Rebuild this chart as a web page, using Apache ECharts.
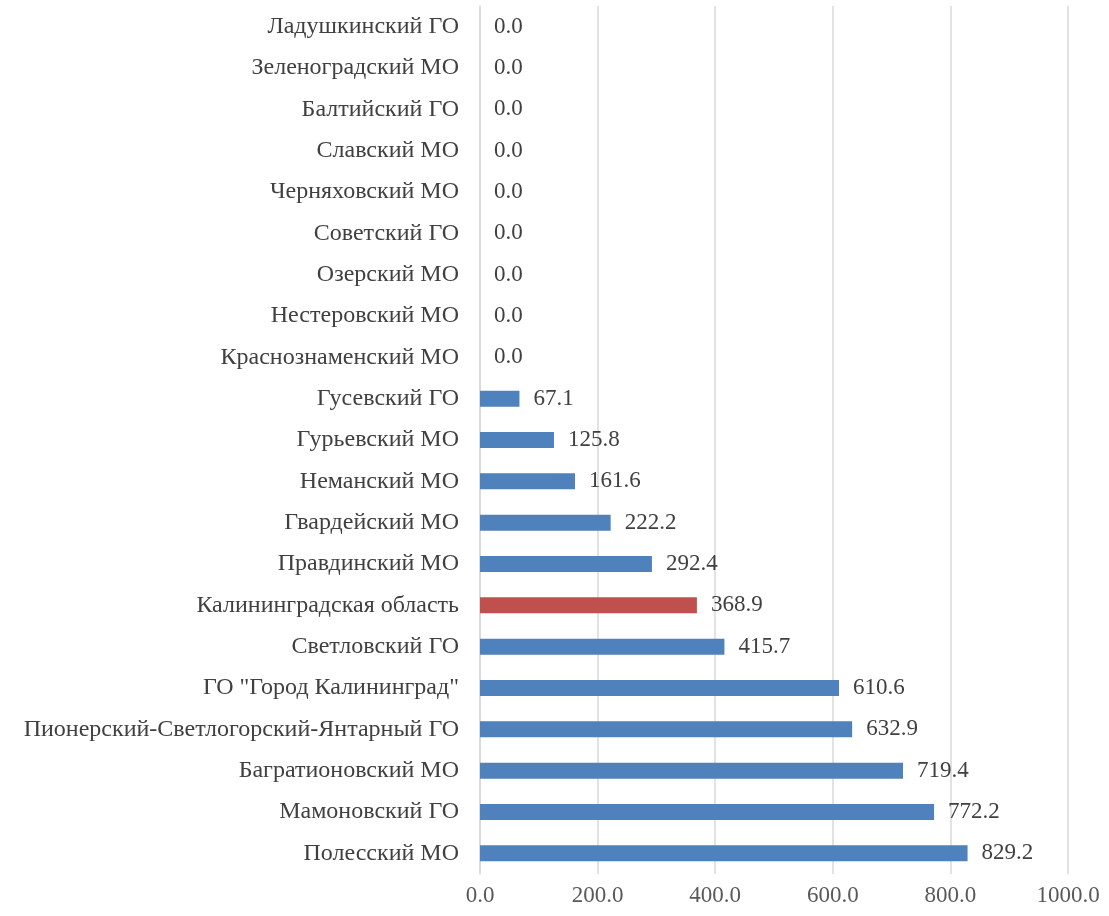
<!DOCTYPE html>
<html>
<head>
<meta charset="utf-8">
<script src="https://cdn.jsdelivr.net/npm/echarts@6/dist/echarts.min.js"></script>
<style>
  html, body { margin: 0; padding: 0; background: #ffffff; }
  #chart { width: 1109px; height: 916px; }
</style>
</head>
<body>
<div id="chart"></div>
<script>
// Municipalities, listed bottom-to-top as the category axis draws them
const categories = [
  'Полесский МО',
  'Мамоновский ГО',
  'Багратионовский МО',
  'Пионерский-Светлогорский-Янтарный ГО',
  'ГО "Город Калининград"',
  'Светловский ГО',
  'Калининградская область',
  'Правдинский МО',
  'Гвардейский МО',
  'Неманский МО',
  'Гурьевский МО',
  'Гусевский ГО',
  'Краснознаменский МО',
  'Нестеровский МО',
  'Озерский МО',
  'Советский ГО',
  'Черняховский МО',
  'Славский МО',
  'Балтийский ГО',
  'Зеленоградский МО',
  'Ладушкинский ГО'
];

const values = [
  829.2, 772.2, 719.4, 632.9, 610.6, 415.7, 368.9, 292.4, 222.2, 161.6, 125.8,
  67.1, 0, 0, 0, 0, 0, 0, 0, 0, 0
];

// Region-wide total is shown in a contrasting colour
const regionTotal = 'Калининградская область';

const xTicks = [0, 200, 400, 600, 800, 1000];

const BLUE = '#4f81bd';
const RED = '#c0504d';
const FONT = '"Liberation Serif", "Times New Roman", serif';

const chart = echarts.init(document.getElementById('chart'), null, { renderer: 'canvas' });

chart.setOption({
  animation: false,
  backgroundColor: '#ffffff',
  grid: { left: 480, right: 41, top: 6, bottom: 42, containLabel: false },
  xAxis: {
    type: 'value',
    min: xTicks[0],
    max: xTicks[xTicks.length - 1],
    interval: xTicks[1] - xTicks[0],
    axisLine: { show: false },
    axisTick: { show: false },
    splitLine: { show: true, lineStyle: { color: '#d9d9d9', width: 1.5 } },
    axisLabel: {
      color: '#595959',
      fontFamily: FONT,
      fontSize: 23,
      margin: 10,
      formatter: v => v.toFixed(1)
    }
  },
  yAxis: {
    type: 'category',
    data: categories,
    axisLine: { show: true, lineStyle: { color: '#d9d9d9', width: 1.5 } },
    axisTick: { show: false },
    splitLine: { show: false },
    axisLabel: {
      color: '#404040',
      fontFamily: FONT,
      fontSize: 24,
      margin: 21,
      interval: 0
    }
  },
  series: [{
    type: 'bar',
    data: values.map((v, i) => ({
      value: v,
      itemStyle: { color: categories[i] === regionTotal ? RED : BLUE }
    })),
    barWidth: 16,
    label: {
      show: true,
      position: 'right',
      distance: 14,
      color: '#404040',
      fontFamily: FONT,
      fontSize: 23,
      formatter: p => p.value.toFixed(1)
    }
  }]
});
</script>
</body>
</html>
